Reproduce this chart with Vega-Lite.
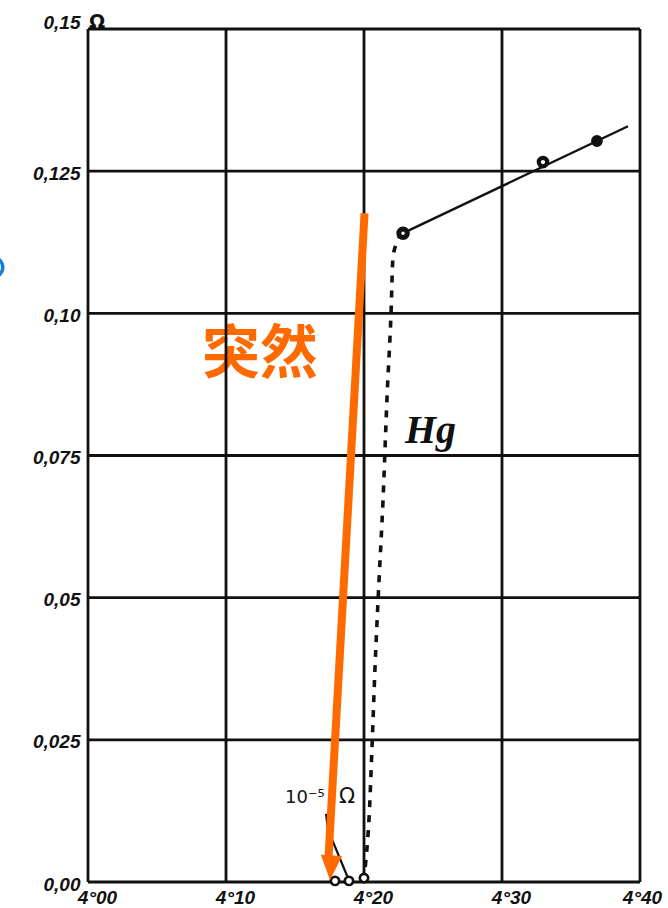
{
  "$schema": "https://vega.github.io/schema/vega-lite/v6.json",
  "width": 552,
  "height": 853,
  "autosize": {"type": "none"},
  "padding": {"left": 88, "top": 29, "right": 28, "bottom": 26},
  "background": "white",
  "config": {
    "view": {"stroke": null},
    "axis": {
      "domain": false,
      "ticks": false,
      "grid": false,
      "labelFont": "Liberation Sans",
      "labelFontStyle": "italic",
      "labelFontWeight": "bold",
      "labelFontSize": 19,
      "labelColor": "#111",
      "labelOverlap": false,
      "labelBound": false,
      "labelFlush": false
    }
  },
  "datasets": {
    "xgrid": [{"T": 4.0}, {"T": 4.1}, {"T": 4.2}, {"T": 4.3}, {"T": 4.4}],
    "ygrid": [{"R": 0}, {"R": 0.025}, {"R": 0.05}, {"R": 0.075}, {"R": 0.1}, {"R": 0.125}, {"R": 0.15}],
    "fall": [
      {"T": 4.2283, "R": 0.1141},
      {"T": 4.2239, "R": 0.1125},
      {"T": 4.2210, "R": 0.1099},
      {"T": 4.2196, "R": 0.1001},
      {"T": 4.2167, "R": 0.0853},
      {"T": 4.2138, "R": 0.0672},
      {"T": 4.2109, "R": 0.0531},
      {"T": 4.2080, "R": 0.0378},
      {"T": 4.2058, "R": 0.0237},
      {"T": 4.2036, "R": 0.0109},
      {"T": 4.2014, "R": 0.0039},
      {"T": 4.2000, "R": 0.0007}
    ],
    "normal": [
      {"T": 4.2283, "R": 0.1141},
      {"T": 4.3913, "R": 0.1329}
    ],
    "tiny": [
      {"T": 4.1725, "R": 0.0120},
      {"T": 4.1739, "R": 0.0092},
      {"T": 4.1884, "R": 0.0007}
    ],
    "measured": [
      {"T": 4.2283, "R": 0.1141, "kind": "ring"},
      {"T": 4.3297, "R": 0.1266, "kind": "open"},
      {"T": 4.3688, "R": 0.1303, "kind": "filled"},
      {"T": 4.1790, "R": 0.0002, "kind": "small"},
      {"T": 4.1891, "R": 0.0002, "kind": "small"},
      {"T": 4.2000, "R": 0.0007, "kind": "small"}
    ],
    "arrow": [
      {"T": 4.2004, "R": 0.1176},
      {"T": 4.1743, "R": 0.0044}
    ],
    "arrowhead": [{"T": 4.1759, "R": 0.0025}],
    "note": [{"T": 4.1246, "R": 0.0925, "label": "突然"}],
    "element": [{"T": 4.2297, "R": 0.0772, "label": "Hg"}],
    "scale": [
      {"T": 4.1428, "R": 0.0139, "label": "10⁻⁵", "size": 18},
      {"T": 4.1819, "R": 0.0139, "label": "Ω", "size": 21}
    ],
    "unit": [{"T": 4.0065, "R": 0.1500, "label": "Ω"}],
    "marker": [{"T": 3.9312, "R": 0.1081}]
  },
  "layer": [
    {
      "data": {"name": "note"},
      "mark": {"type": "text", "font": "Noto Sans CJK SC", "fontWeight": "bold", "fontSize": 58, "color": "#ff6a00", "align": "center", "baseline": "middle"},
      "encoding": {
        "x": {"field": "T", "type": "quantitative", "scale": {"domain": [4.0, 4.4], "nice": false, "zero": false}, "title": null},
        "y": {"field": "R", "type": "quantitative", "scale": {"domain": [0, 0.15], "nice": false, "zero": false}, "title": null},
        "text": {"field": "label"}
      }
    },
    {
      "data": {"name": "xgrid"},
      "mark": {"type": "rule", "color": "#111", "strokeWidth": 2.8},
      "encoding": {
        "x": {
          "field": "T", "type": "quantitative",
          "scale": {"domain": [4.0, 4.4], "nice": false, "zero": false},
          "title": null,
          "axis": {
            "values": [4.0, 4.1, 4.2, 4.3, 4.4],
            "labelExpr": "replace(format(datum.value, '.2f'), '.', '°')",
            "labelBaseline": "top",
            "labelPadding": 6,
            "labelOffset": {"condition": {"test": "datum.value > 4.35", "value": 2}, "value": 9}
          }
        }
      }
    },
    {
      "data": {"name": "ygrid"},
      "mark": {"type": "rule", "color": "#111", "strokeWidth": 2.8},
      "encoding": {
        "y": {
          "field": "R", "type": "quantitative",
          "scale": {"domain": [0, 0.15], "nice": false, "zero": false},
          "title": null,
          "axis": {
            "values": [0, 0.025, 0.05, 0.075, 0.1, 0.125, 0.15],
            "labelExpr": "datum.value == 0 ? '0,00' : datum.value == 0.025 ? '0,025' : datum.value == 0.05 ? '0,05' : datum.value == 0.075 ? '0,075' : datum.value == 0.1 ? '0,10' : datum.value == 0.125 ? '0,125' : '0,15'",
            "labelBaseline": "middle",
            "labelPadding": 8,
            "labelOffset": {"condition": {"test": "datum.value > 0.14", "value": -7}, "value": 2}
          }
        }
      }
    },
    {
      "data": {"name": "tiny"},
      "mark": {"type": "line", "color": "#111", "strokeWidth": 2.2},
      "encoding": {
        "x": {"field": "T", "type": "quantitative", "scale": {"domain": [4.0, 4.4], "nice": false, "zero": false}, "title": null},
        "y": {"field": "R", "type": "quantitative", "scale": {"domain": [0, 0.15], "nice": false, "zero": false}, "title": null}
      }
    },
    {
      "data": {"name": "fall"},
      "mark": {"type": "line", "color": "#111", "strokeWidth": 3.6, "strokeDash": [7, 8], "interpolate": "monotone"},
      "encoding": {
        "x": {"field": "T", "type": "quantitative", "scale": {"domain": [4.0, 4.4], "nice": false, "zero": false}, "title": null},
        "y": {"field": "R", "type": "quantitative", "scale": {"domain": [0, 0.15], "nice": false, "zero": false}, "title": null},
        "order": {"field": "R", "type": "quantitative", "sort": "descending"}
      }
    },
    {
      "data": {"name": "normal"},
      "mark": {"type": "line", "color": "#111", "strokeWidth": 2.4},
      "encoding": {
        "x": {"field": "T", "type": "quantitative", "scale": {"domain": [4.0, 4.4], "nice": false, "zero": false}, "title": null},
        "y": {"field": "R", "type": "quantitative", "scale": {"domain": [0, 0.15], "nice": false, "zero": false}, "title": null}
      }
    },
    {
      "data": {"name": "measured"},
      "mark": {"type": "point", "shape": "circle", "opacity": 1},
      "encoding": {
        "x": {"field": "T", "type": "quantitative", "scale": {"domain": [4.0, 4.4], "nice": false, "zero": false}, "title": null},
        "y": {"field": "R", "type": "quantitative", "scale": {"domain": [0, 0.15], "nice": false, "zero": false}, "title": null},
        "size": {"field": "kind", "type": "nominal", "scale": {"domain": ["ring", "open", "filled", "small"], "range": [72, 70, 150, 48]}, "legend": null},
        "fill": {"field": "kind", "type": "nominal", "scale": {"domain": ["ring", "open", "filled", "small"], "range": ["#fff", "#fff", "#111", "#fff"]}, "legend": null},
        "strokeWidth": {"field": "kind", "type": "nominal", "scale": {"domain": ["ring", "open", "filled", "small"], "range": [5, 2.6, 2, 2.4]}, "legend": null},
        "stroke": {"value": "#111"}
      }
    },
    {
      "data": {"name": "element"},
      "mark": {"type": "text", "font": "Liberation Serif", "fontStyle": "italic", "fontWeight": "bold", "fontSize": 40, "color": "#111", "align": "left", "baseline": "alphabetic"},
      "encoding": {
        "x": {"field": "T", "type": "quantitative", "scale": {"domain": [4.0, 4.4], "nice": false, "zero": false}, "title": null},
        "y": {"field": "R", "type": "quantitative", "scale": {"domain": [0, 0.15], "nice": false, "zero": false}, "title": null},
        "text": {"field": "label"}
      }
    },
    {
      "data": {"name": "scale"},
      "mark": {"type": "text", "font": "DejaVu Sans", "color": "#111", "align": "left", "baseline": "alphabetic"},
      "encoding": {
        "x": {"field": "T", "type": "quantitative", "scale": {"domain": [4.0, 4.4], "nice": false, "zero": false}, "title": null},
        "y": {"field": "R", "type": "quantitative", "scale": {"domain": [0, 0.15], "nice": false, "zero": false}, "title": null},
        "size": {"field": "size", "type": "quantitative", "scale": null},
        "text": {"field": "label"}
      }
    },
    {
      "data": {"name": "unit"},
      "mark": {"type": "text", "font": "DejaVu Sans", "fontWeight": "bold", "fontSize": 19, "color": "#111", "align": "center", "baseline": "alphabetic", "dy": -1},
      "encoding": {
        "x": {"field": "T", "type": "quantitative", "scale": {"domain": [4.0, 4.4], "nice": false, "zero": false}, "title": null},
        "y": {"field": "R", "type": "quantitative", "scale": {"domain": [0, 0.15], "nice": false, "zero": false}, "title": null},
        "text": {"field": "label"}
      }
    },
    {
      "data": {"name": "arrow"},
      "mark": {"type": "line", "color": "#ff6a00", "strokeWidth": 8, "strokeCap": "butt"},
      "encoding": {
        "x": {"field": "T", "type": "quantitative", "scale": {"domain": [4.0, 4.4], "nice": false, "zero": false}, "title": null},
        "y": {"field": "R", "type": "quantitative", "scale": {"domain": [0, 0.15], "nice": false, "zero": false}, "title": null}
      }
    },
    {
      "data": {"name": "arrowhead"},
      "mark": {"type": "point", "shape": "M -0.85,-1 L 0.85,-1 L 0,1 Z", "size": 625, "filled": true, "color": "#ff6a00", "opacity": 1, "angle": 3.2},
      "encoding": {
        "x": {"field": "T", "type": "quantitative", "scale": {"domain": [4.0, 4.4], "nice": false, "zero": false}, "title": null},
        "y": {"field": "R", "type": "quantitative", "scale": {"domain": [0, 0.15], "nice": false, "zero": false}, "title": null}
      }
    },
    {
      "data": {"name": "marker"},
      "mark": {"type": "point", "shape": "circle", "size": 380, "filled": false, "stroke": "#1a7fd8", "strokeWidth": 3.5, "opacity": 1},
      "encoding": {
        "x": {"field": "T", "type": "quantitative", "scale": {"domain": [4.0, 4.4], "nice": false, "zero": false}, "title": null},
        "y": {"field": "R", "type": "quantitative", "scale": {"domain": [0, 0.15], "nice": false, "zero": false}, "title": null}
      }
    }
  ]
}
